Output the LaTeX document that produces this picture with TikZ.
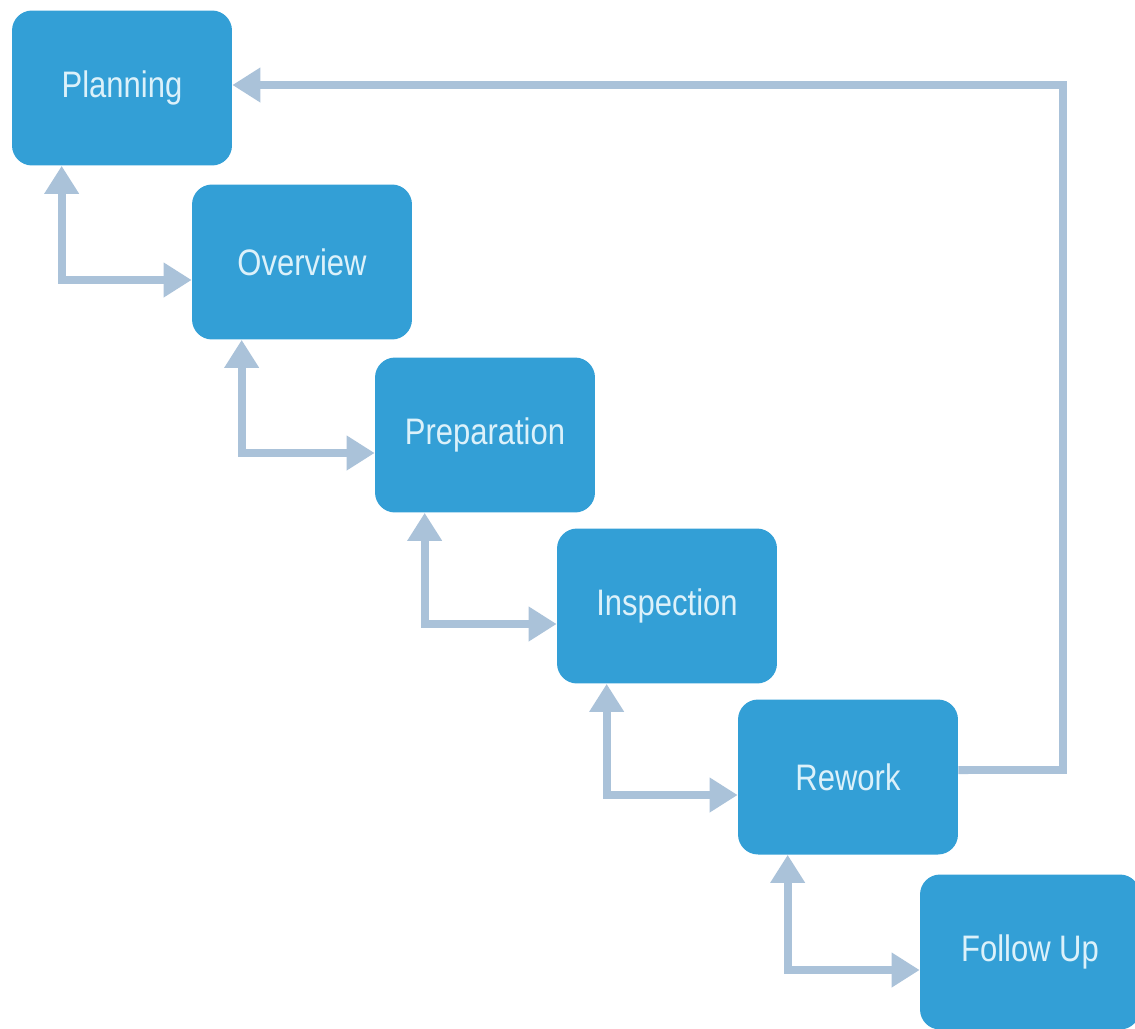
\documentclass[tikz,border=0pt]{standalone}
\usepackage{fontspec}
\setmainfont{Liberation Sans}[FakeStretch=0.84]
\usepackage{tikz}
\usetikzlibrary{arrows.meta,calc,positioning}
\definecolor{boxblue}{RGB}{51,159,214}
\definecolor{boxtext}{RGB}{220,241,250}
\definecolor{linkblue}{RGB}{170,194,217}

\begin{document}
\begin{tikzpicture}[x=0.02cm, y=-0.02cm,
  phase/.style={fill=boxblue, rounded corners=0.4cm, minimum width=4.4cm,
    minimum height=3.1cm, text=boxtext, font=\fontsize{21}{25}\selectfont},
  link/.style={draw=linkblue, line width=0.16cm,
    {Triangle[length=0.56cm, width=0.66cm]}-{Triangle[length=0.56cm, width=0.66cm]}}]

\useasboundingbox (0,0) rectangle (1135,1028);
\clip (0,0) rectangle (1135,1028);

\node[phase] (plan) at (122, 88)   {Planning};
\node[phase] (over) at (302, 262)  {Overview};
\node[phase] (prep) at (485, 435)  {Preparation};
\node[phase] (insp) at (667, 606)  {Inspection};
\node[phase] (rewk) at (848, 777)  {Rework};
\node[phase] (foll) at (1030, 952) {Follow Up};

% Planning <-> Overview
\draw[link] ([xshift=1cm]plan.south west) |- ([yshift=-0.36cm]over.west);
% Overview <-> Preparation
\draw[link] ([xshift=1cm]over.south west) |- ([yshift=-0.36cm]prep.west);
% Preparation <-> Inspection
\draw[link] ([xshift=1cm]prep.south west) |- ([yshift=-0.36cm]insp.west);
% Inspection <-> Rework
\draw[link] ([xshift=1cm]insp.south west) |- ([yshift=-0.36cm]rewk.west);
% Rework <-> Follow Up
\draw[link] ([xshift=1cm]rewk.south west) |- ([yshift=-0.36cm]foll.west);
% Rework back to Planning
\coordinate (back) at (1063, 85);
\draw[link, {Butt Cap}-{Triangle[length=0.56cm, width=0.66cm]}]
  ([yshift=0.14cm]rewk.east) -| (back) -- (plan.east |- back);

\end{tikzpicture}
\end{document}
